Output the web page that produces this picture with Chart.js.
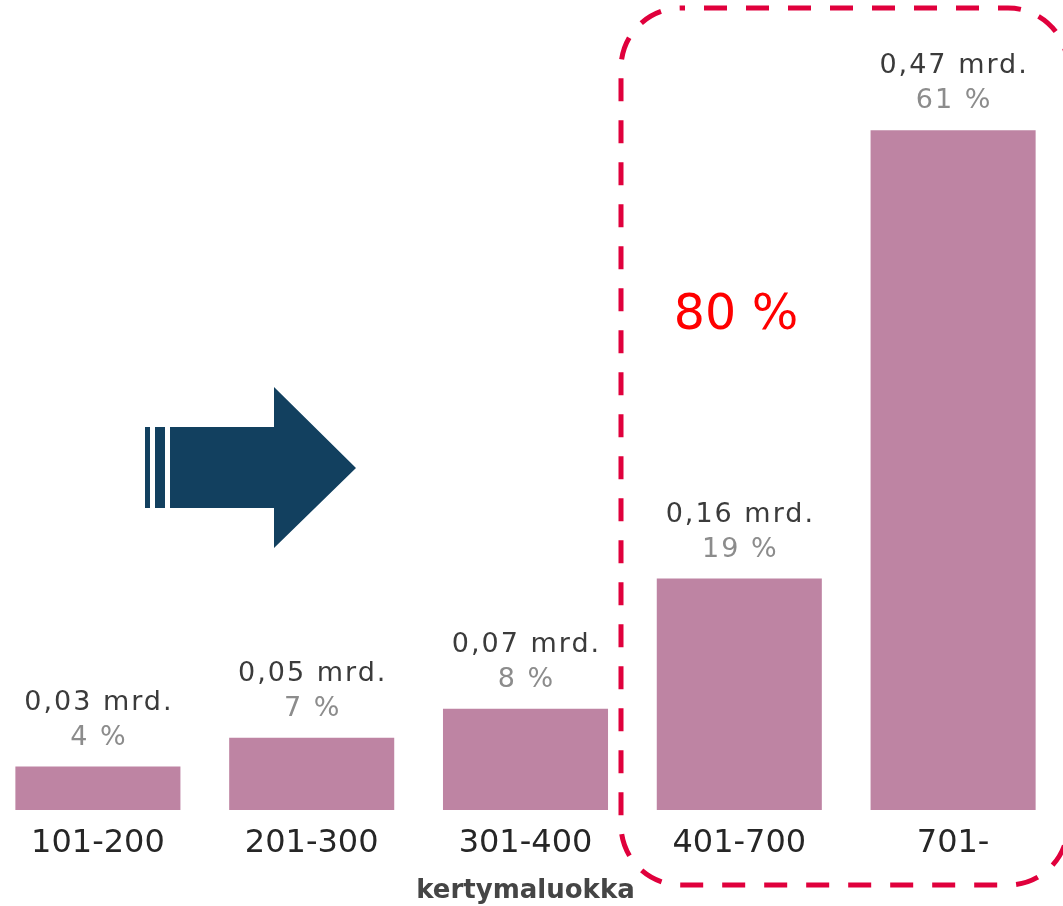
<!DOCTYPE html>
<html>
<head>
<meta charset="utf-8">
<script src="https://cdn.jsdelivr.net/npm/chart.js@4.4.1/dist/chart.umd.min.js"></script>
<style>
  html, body { margin: 0; padding: 0; background: #ffffff; overflow: hidden; }
  #wrap { position: absolute; left: -9px; top: 0; width: 1090px; height: 906px; }
</style>
</head>
<body>
<div id="wrap"><canvas id="chart"></canvas></div>
<script>
// Data
const categories = ['101-200', '201-300', '301-400', '401-700', '701-'];
const amounts = [0.03, 0.05, 0.07, 0.16, 0.47]; // mrd.
const shares = [4, 7, 8, 19, 61]; // %
const highlightShare = 80; // % of the two last classes
const axisTitle = 'kertymaluokka';

// canvas starts 9px left of the page
const SHIFT = 9;

function formatAmount(v) {
  return v.toFixed(2).replace('.', ',') + ' mrd.';
}

// value labels above the bars
const barLabels = {
  id: 'barLabels',
  afterDatasetsDraw(chart) {
    const ctx = chart.ctx;
    const meta = chart.getDatasetMeta(0);
    ctx.save();
    ctx.textAlign = 'center';
    ctx.textBaseline = 'middle';
    ctx.font = '27px "DejaVu Sans"';
    ctx.letterSpacing = '2px';
    meta.data.forEach((bar, i) => {
      ctx.fillStyle = '#3b3b3b';
      ctx.fillText(formatAmount(amounts[i]), bar.x + 1, bar.y - 64);
      ctx.fillStyle = '#8c8c8c';
      ctx.fillText(shares[i] + ' %', bar.x + 1, bar.y - 29);
    });
    ctx.restore();
  }
};

// arrow, dashed frame and the 80 % note
const extras = {
  id: 'extras',
  afterDraw(chart) {
    const ctx = chart.ctx;
    ctx.save();
    ctx.translate(SHIFT, 0);

    // Arrow
    ctx.fillStyle = '#12405f';
    ctx.fillRect(145, 427, 5, 81);
    ctx.fillRect(155, 427, 10, 81);
    ctx.beginPath();
    ctx.moveTo(170, 427);
    ctx.lineTo(274, 427);
    ctx.lineTo(274, 387);
    ctx.lineTo(356, 468);
    ctx.lineTo(274, 548);
    ctx.lineTo(274, 508);
    ctx.lineTo(170, 508);
    ctx.closePath();
    ctx.fill();

    // Dashed frame
    ctx.strokeStyle = '#e0003c';
    ctx.lineWidth = 5;
    ctx.setLineDash([23, 19]);
    ctx.lineDashOffset = 19;
    ctx.beginPath();
    ctx.roundRect(621, 8, 447, 877, 60);
    ctx.stroke();
    ctx.setLineDash([]);

    // 80 %
    ctx.fillStyle = '#ff0000';
    ctx.font = '49px "DejaVu Sans"';
    ctx.textAlign = 'center';
    ctx.textBaseline = 'middle';
    ctx.fillText(highlightShare + ' %', 736, 316);

    ctx.restore();
  }
};

const chart = new Chart(document.getElementById('chart'), {
  type: 'bar',
  data: {
    labels: categories,
    datasets: [
      {
        data: amounts,
        backgroundColor: '#be84a3',
        borderWidth: 0,
        categoryPercentage: 1,
        barPercentage: 0.772,
      },
    ],
  },
  options: {
    responsive: true,
    maintainAspectRatio: false,
    animation: false,
    layout: { padding: { left: 0, right: 21, top: 0, bottom: 0 } },
    plugins: {
      legend: { display: false },
      tooltip: { enabled: false },
    },
    scales: {
      x: {
        grid: { display: false, drawTicks: false },
        border: { display: false },
        ticks: {
          color: '#262626',
          font: { family: 'DejaVu Sans', size: 32 },
          padding: 14,
          maxRotation: 0,
          autoSkip: false,
        },
        title: {
          display: true,
          text: axisTitle,
          color: '#454545',
          font: { family: 'DejaVu Sans', size: 26, weight: 'bold', lineHeight: 1 },
          padding: { top: 1, bottom: 2 },
        },
        afterFit: (scale) => {
          scale.height = 96;
        },
      },
      y: {
        display: false,
        min: 0,
        max: 0.56,
      },
    },
  },
  plugins: [barLabels, extras],
});
</script>
</body>
</html>
